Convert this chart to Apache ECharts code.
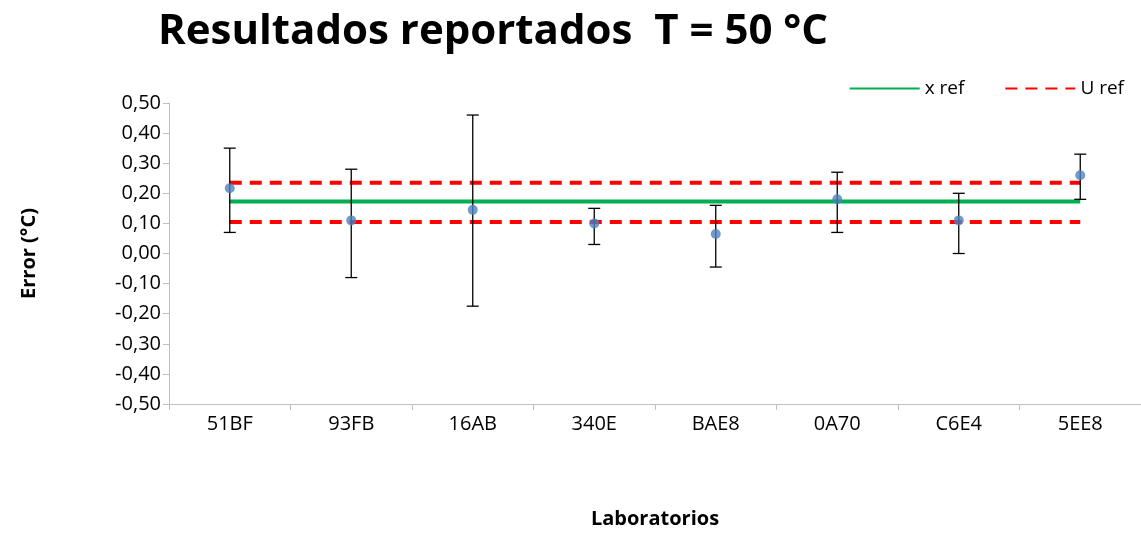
<!DOCTYPE html>
<html><head><meta charset="utf-8">
<script src="https://cdn.jsdelivr.net/npm/echarts@6/dist/echarts.min.js"></script>
<style>html,body{margin:0;padding:0;background:#fff}#c{width:1141px;height:537px}</style>
</head><body><div id="c"></div>
<script>
var labs = ["51BF", "93FB", "16AB", "340E", "BAE8", "0A70", "C6E4", "5EE8"];
var values = [0.217, 0.11, 0.145, 0.10, 0.065, 0.18, 0.11, 0.26];
var errHigh = [0.35, 0.28, 0.46, 0.15, 0.16, 0.27, 0.20, 0.33];
var errLow = [0.07, -0.08, -0.175, 0.03, -0.045, 0.07, 0.0, 0.18];
var xRef = 0.173;
var uRefHigh = 0.235;
var uRefLow = 0.105;

var chart = echarts.init(document.getElementById("c"));
var font = "'Open Sans', sans-serif";
var flat = function (v) { return labs.map(function () { return v; }); };

var option = {
  animation: false,
  textStyle: { fontFamily: font },
  title: {
    text: "Resultados reportados  T = 50 °C",
    left: 153, top: 6,
    textStyle: { fontSize: 42, fontWeight: "bold", color: "#000", fontFamily: font }
  },
  legend: {
    right: 12, top: 74, itemWidth: 70, itemGap: 40,
    itemStyle: { opacity: 0 },
    textStyle: { fontSize: 19, color: "#000" },
    data: [{ name: "x ref" }, { name: "U ref" }]
  },
  grid: { left: 169, right: 0, top: 103, bottom: 133 },
  xAxis: {
    type: "category", data: labs,
    name: "Laboratorios", nameLocation: "middle", nameGap: 105,
    nameTextStyle: { fontSize: 20, fontWeight: "bold", color: "#000" },
    axisLine: { lineStyle: { color: "#bfbfbf" }, onZero: false },
    axisTick: { show: true, length: 6, lineStyle: { color: "#bfbfbf" } },
    axisLabel: { fontSize: 20, color: "#000", margin: 10 }
  },
  yAxis: {
    type: "value", min: -0.5, max: 0.5, interval: 0.1,
    name: "Error (°C)", nameLocation: "middle", nameGap: 130,
    nameTextStyle: { fontSize: 20, fontWeight: "bold", color: "#000" },
    axisLine: { show: true, lineStyle: { color: "#bfbfbf" } },
    axisTick: { show: true, length: 6, lineStyle: { color: "#bfbfbf" } },
    splitLine: { show: false },
    axisLabel: {
      fontSize: 20, color: "#000",
      formatter: function (v) { return v.toFixed(2).replace(".", ","); }
    }
  },
  series: [
    {
      name: "x ref", type: "line", data: flat(xRef), symbol: "none",
      lineStyle: { color: "#00b050", width: 4 }, itemStyle: { color: "#00b050" }
    },
    {
      name: "U ref", type: "line", data: flat(uRefHigh), symbol: "none",
      lineStyle: { color: "#ff0000", width: 4, type: [12, 8] }, itemStyle: { color: "#ff0000" }
    },
    {
      name: "U ref2", type: "line", data: flat(uRefLow), symbol: "none",
      lineStyle: { color: "#ff0000", width: 4, type: [12, 8] }
    },
    {
      type: "custom", z: 5,
      data: labs.map(function (l, i) { return [i, errLow[i], errHigh[i]]; }),
      renderItem: function (params, api) {
        var lo = api.coord([api.value(0), api.value(1)]);
        var hi = api.coord([api.value(0), api.value(2)]);
        var x = lo[0], w = 6;
        var st = { stroke: "#000", lineWidth: 1.3 };
        return { type: "group", children: [
          { type: "line", shape: { x1: x, y1: lo[1], x2: x, y2: hi[1] }, style: st },
          { type: "line", shape: { x1: x - w, y1: lo[1], x2: x + w, y2: lo[1] }, style: st },
          { type: "line", shape: { x1: x - w, y1: hi[1], x2: x + w, y2: hi[1] }, style: st }
        ] };
      }
    },
    {
      type: "scatter", data: values, symbolSize: 10, z: 10,
      itemStyle: { color: "#4f81bd" }
    }
  ]
};
chart.setOption(option);
</script></body></html>
